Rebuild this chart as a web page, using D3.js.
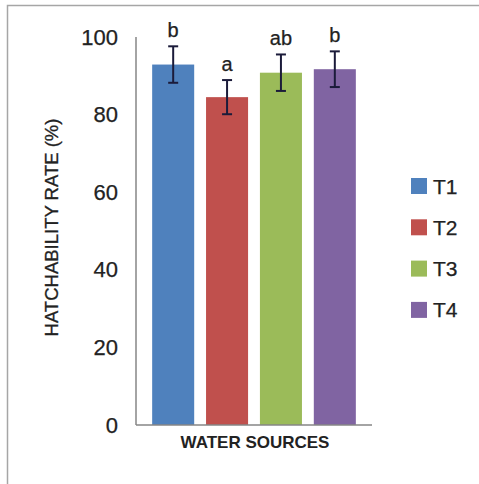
<!DOCTYPE html>
<html>
<head>
<meta charset="utf-8">
<script src="https://cdn.jsdelivr.net/npm/d3@7"></script>
<style>
  html, body { margin: 0; padding: 0; background: #fff; }
  svg { display: block; }
  text { font-family: "Liberation Sans", Arial, sans-serif; fill: #222; }
</style>
</head>
<body>
<script>
// Hatchability rate by water source (T1–T4), mean ± error with significance letters
const treatments = ["T1", "T2", "T3", "T4"];
const hatchRate = [92.9, 84.5, 90.8, 91.7];
const errors = [4.7, 4.4, 4.7, 4.6];
const sigLetters = ["b", "a", "ab", "b"];
const colors = ["#4F81BD", "#C0504D", "#9BBB59", "#8064A2"];
const yTicks = [0, 20, 40, 60, 80, 100];

const W = 479, H = 484;
const svg = d3.select("body").append("svg").attr("width", W).attr("height", H);

// outer frame
svg.append("rect")
  .attr("x", 7.5).attr("y", 5.5)
  .attr("width", W + 20).attr("height", H + 20)
  .attr("fill", "none").attr("stroke", "#a6a6a6").attr("stroke-width", 1.5);

const plot = { left: 136, right: 372, top: 37, bottom: 425 };

const x = d3.scaleBand()
  .domain(treatments)
  .range([plot.left, plot.right])
  .paddingInner(0.22)
  .paddingOuter(0.3);

const y = d3.scaleLinear().domain([0, 100]).range([plot.bottom, plot.top]);

// y axis labels
const yAxis = d3.axisLeft(y).tickValues(yTicks).tickSize(0).tickPadding(18).tickFormat(d3.format("d"));
const gy = svg.append("g").attr("transform", `translate(${plot.left},0)`).call(yAxis);
gy.select(".domain").remove();
gy.selectAll("text").style("font-size", "22px").attr("fill", "#222")
  .attr("stroke", "#222").attr("stroke-width", 0.25)
  .style("font-family", "'Liberation Sans', Arial, sans-serif");

// bars
svg.append("g").selectAll("rect")
  .data(treatments)
  .join("rect")
  .attr("x", d => x(d))
  .attr("width", x.bandwidth())
  .attr("y", (d, i) => y(hatchRate[i]))
  .attr("height", (d, i) => y(0) - y(hatchRate[i]))
  .attr("fill", (d, i) => colors[i]);

// axis lines
svg.append("line")
  .attr("x1", plot.left).attr("x2", plot.left)
  .attr("y1", plot.top).attr("y2", plot.bottom)
  .attr("stroke", "#868686").attr("stroke-width", 1.5);
svg.append("line")
  .attr("x1", plot.left).attr("x2", plot.right)
  .attr("y1", plot.bottom).attr("y2", plot.bottom)
  .attr("stroke", "#868686").attr("stroke-width", 1.5);

// error bars
const eb = svg.append("g").attr("stroke", "#1b1b3a").attr("stroke-width", 2);
treatments.forEach((t, i) => {
  const cx = x(t) + x.bandwidth() / 2;
  const hi = y(hatchRate[i] + errors[i]);
  const lo = y(hatchRate[i] - errors[i]);
  eb.append("line").attr("x1", cx).attr("x2", cx).attr("y1", hi).attr("y2", lo);
  eb.append("line").attr("x1", cx - 5).attr("x2", cx + 5).attr("y1", hi).attr("y2", hi);
  eb.append("line").attr("x1", cx - 5).attr("x2", cx + 5).attr("y1", lo).attr("y2", lo);
});

// significance letters
svg.append("g").selectAll("text")
  .data(treatments)
  .join("text")
  .attr("x", d => x(d) + x.bandwidth() / 2)
  .attr("y", (d, i) => y(hatchRate[i] + errors[i]) - 9)
  .attr("text-anchor", "middle")
  .style("font-size", "20px")
  .attr("stroke", "#222").attr("stroke-width", 0.25)
  .text((d, i) => sigLetters[i]);

// axis titles
svg.append("text")
  .attr("x", (plot.left + plot.right) / 2 + 1)
  .attr("y", 448)
  .attr("text-anchor", "middle")
  .style("font-size", "17px")
  .style("font-weight", "bold")
  .text("WATER SOURCES");

svg.append("text")
  .attr("transform", `translate(58,${(118 + 337) / 2}) rotate(-90)`)
  .attr("text-anchor", "middle")
  .style("font-size", "18.5px")
  .attr("stroke", "#222").attr("stroke-width", 0.3)
  .text("HATCHABILITY RATE (%)");

// legend
const legend = svg.append("g").selectAll("g")
  .data(treatments)
  .join("g")
  .attr("transform", (d, i) => `translate(411,${186 + i * 41.3})`);
legend.append("rect")
  .attr("x", 0).attr("y", -8)
  .attr("width", 16).attr("height", 16)
  .attr("fill", (d, i) => colors[i]);
legend.append("text")
  .attr("x", 22).attr("y", 0)
  .attr("dy", "0.36em")
  .style("font-size", "21px")
  .attr("stroke", "#222").attr("stroke-width", 0.25)
  .text(d => d);
</script>
</body>
</html>
